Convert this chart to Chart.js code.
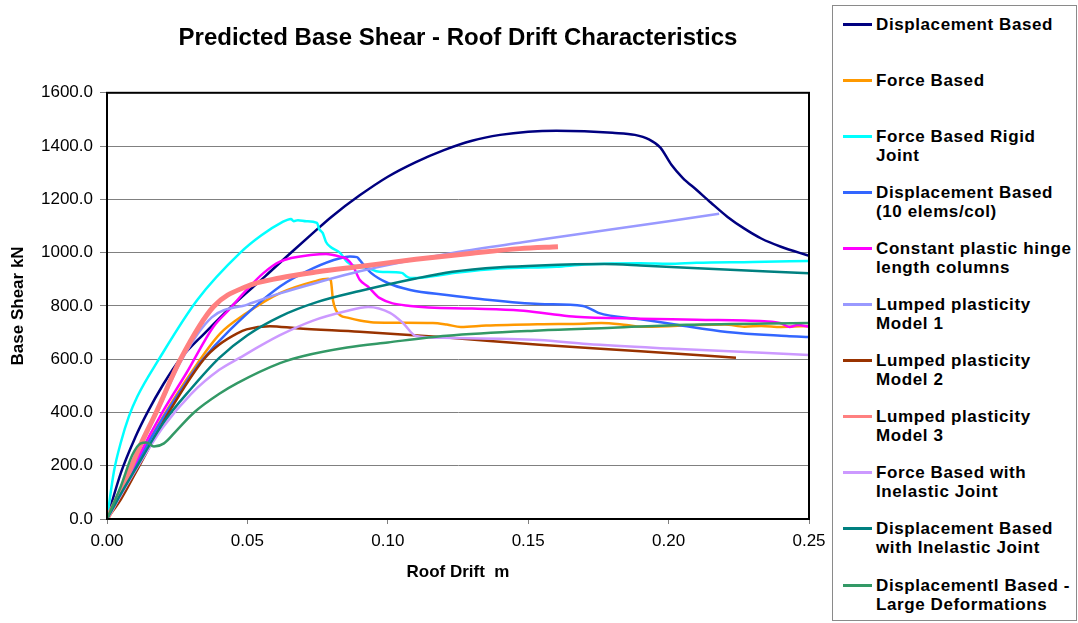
<!DOCTYPE html>
<html>
<head>
<meta charset="utf-8">
<title>Predicted Base Shear - Roof Drift Characteristics</title>
<script src="https://cdn.jsdelivr.net/npm/chart.js@4.4.0/dist/chart.umd.min.js"></script>
<style>
  html, body { margin: 0; padding: 0; background: #fff; }
  #wrap { position: relative; width: 1078px; height: 623px; overflow: hidden; }
  #legend {
    position: absolute; left: 832px; top: 5px; width: 243px; height: 614px;
    border: 1px solid #8a8a8a; background: #fff;
    font: bold 17px "Liberation Sans", Arial, sans-serif; color: #000; letter-spacing: 0.6px;
  }
  .item { position: absolute; left: 0; }
  .swatch { position: absolute; left: 10px; top: 8px; width: 29px; height: 3px; }
  .txt { position: absolute; left: 43px; top: 0; line-height: 19px; white-space: nowrap; }
</style>
</head>
<body>
<div id="wrap">
  <canvas id="driftChart" width="1078" height="623"></canvas>
  <div id="legend"></div>
</div>
<script>
// series: [roof drift m, base shear kN]
const dispBased = [
  [0, 0], [0.005, 175], [0.01, 305], [0.0144, 400], [0.02, 505], [0.026, 600], [0.035, 700],
  [0.045, 805], [0.0562, 910], [0.065, 995], [0.0735, 1075], [0.08, 1135], [0.09, 1215],
  [0.10, 1285], [0.11, 1340], [0.12, 1385], [0.13, 1420], [0.14, 1442], [0.15, 1454],
  [0.16, 1458], [0.17, 1456], [0.18, 1450], [0.188, 1442], [0.193, 1425], [0.197, 1395],
  [0.201, 1330], [0.205, 1281], [0.21, 1235], [0.215, 1188], [0.221, 1134], [0.227, 1090],
  [0.233, 1053], [0.24, 1022], [0.25, 988]
];
const forceBased = [
  [0, 0], [0.005, 100], [0.01, 200], [0.02, 385], [0.03, 550], [0.0402, 695], [0.0497, 773],
  [0.0616, 848], [0.0735, 891], [0.0788, 902], [0.0797, 895], [0.0805, 820], [0.0815, 785],
  [0.083, 765], [0.086, 755], [0.09, 745], [0.095, 738], [0.105, 737], [0.116, 736],
  [0.121, 730], [0.126, 721], [0.135, 726], [0.154, 731], [0.17, 733], [0.176, 736],
  [0.185, 728], [0.19, 722], [0.2, 724], [0.21, 728], [0.22, 730], [0.227, 722],
  [0.233, 725], [0.24, 721], [0.25, 725]
];
const forceRigid = [
  [0, 0], [0.0025, 180], [0.005, 290], [0.0078, 385], [0.0108, 460], [0.0185, 600],
  [0.0322, 823], [0.0474, 999], [0.055, 1065], [0.0627, 1116], [0.064, 1122], [0.0655, 1126],
  [0.0665, 1118], [0.068, 1122], [0.071, 1118], [0.0748, 1112], [0.0755, 1090], [0.0768, 1074],
  [0.078, 1040], [0.0795, 1022], [0.083, 999], [0.0855, 965], [0.0876, 952], [0.0926, 943],
  [0.097, 928], [0.105, 924], [0.1065, 912], [0.108, 905], [0.112, 906], [0.125, 925],
  [0.14, 940], [0.16, 947], [0.17, 955], [0.19, 960], [0.2, 958], [0.21, 962], [0.23, 965],
  [0.25, 969]
];
const dispBased10 = [
  [0, 0], [0.005, 100], [0.01, 200], [0.02, 380], [0.0296, 535], [0.0334, 590], [0.0438, 710],
  [0.0616, 873], [0.0735, 942], [0.083, 979], [0.0865, 985], [0.089, 983], [0.0898, 975],
  [0.0908, 962], [0.094, 924], [0.1, 886], [0.108, 860], [0.121, 841], [0.133, 826],
  [0.154, 807], [0.1695, 800], [0.172, 790], [0.175, 774], [0.19, 750], [0.203, 729],
  [0.2208, 702], [0.242, 687], [0.25, 683]
];
const constHinge = [
  [0, 0], [0.005, 100], [0.01, 210], [0.0197, 400], [0.0284, 550], [0.0379, 722],
  [0.0438, 790], [0.0497, 860], [0.0557, 923], [0.0616, 966], [0.0735, 992], [0.078, 995],
  [0.083, 985], [0.0855, 975], [0.0877, 948], [0.09, 898], [0.093, 872], [0.097, 830],
  [0.108, 800], [0.13, 790], [0.147, 783], [0.158, 770], [0.167, 759], [0.19, 752],
  [0.21, 748], [0.234, 742], [0.24, 735], [0.243, 721], [0.246, 728], [0.25, 722]
];
const lumped1 = [
  [0, 0], [0.006, 125], [0.012, 272], [0.0175, 392], [0.0262, 590], [0.0373, 757],
  [0.05, 805], [0.0616, 847], [0.075, 888], [0.09, 930], [0.123, 999], [0.147, 1037],
  [0.154, 1048], [0.18, 1088], [0.2, 1118], [0.218, 1146]
];
const lumped2 = [
  [0, 0], [0.005, 75], [0.01, 170], [0.022, 400], [0.0345, 600], [0.04, 655], [0.0464, 697],
  [0.0497, 712], [0.058, 724], [0.0675, 716], [0.09, 703], [0.12, 682], [0.154, 654],
  [0.19, 630], [0.224, 605]
];
const lumped3 = [
  [0, 0], [0.006, 130], [0.012, 280], [0.0175, 400], [0.0262, 600], [0.0379, 797],
  [0.0497, 873], [0.0616, 905], [0.075, 928], [0.09, 948], [0.11, 975], [0.13, 998],
  [0.147, 1015], [0.1606, 1022]
];
const forceInelastic = [
  [0, 0], [0.005, 90], [0.01, 180], [0.02, 345], [0.03, 470], [0.04, 560], [0.0464, 600],
  [0.0616, 690], [0.0734, 745], [0.085, 780], [0.093, 796], [0.1008, 774], [0.1054, 736],
  [0.11, 687], [0.12, 680], [0.154, 672], [0.171, 657], [0.2, 640], [0.25, 616]
];
const dispInelastic = [
  [0, 0], [0.005, 95], [0.01, 185], [0.02, 360], [0.03, 490], [0.04, 605], [0.05, 690],
  [0.0616, 760], [0.075, 815], [0.09, 856], [0.11, 903], [0.123, 928], [0.14, 945],
  [0.154, 952], [0.177, 957], [0.19, 952], [0.2065, 943], [0.25, 923]
];
const dispLarge = [
  [0, 0], [0.005, 125], [0.009, 240], [0.012, 284], [0.014, 287], [0.0167, 272],
  [0.0203, 284], [0.025, 335], [0.031, 400], [0.04, 470], [0.0464, 510], [0.0616, 585],
  [0.07, 612], [0.0855, 644], [0.1, 663], [0.121, 688], [0.154, 708], [0.18, 718],
  [0.2065, 729], [0.25, 736]
];

const seriesData = [
  dispBased, forceBased, forceRigid, dispBased10, constHinge, lumped1,
  lumped2, lumped3, forceInelastic, dispInelastic, dispLarge
];
const seriesLabels = [
  ['Displacement Based'],
  ['Force Based'],
  ['Force Based Rigid', 'Joint'],
  ['Displacement Based', '(10 elems/col)'],
  ['Constant plastic hinge', 'length columns'],
  ['Lumped plasticity', 'Model 1'],
  ['Lumped plasticity', 'Model 2'],
  ['Lumped plasticity', 'Model 3'],
  ['Force Based with', 'Inelastic Joint'],
  ['Displacement Based', 'with Inelastic Joint'],
  ['Displacementl Based -', 'Large Deformations']
];
const seriesColors = [
  '#000080', '#FF9900', '#00FFFF', '#3366FF', '#FF00FF', '#9999FF',
  '#993300', '#FF8080', '#CC99FF', '#008080', '#339966'
];
const seriesWidths = [2.5, 2.5, 2.5, 2.5, 2.5, 2.5, 2.5, 5, 2.5, 2.5, 2.5];

const driftTicks = [0, 0.05, 0.10, 0.15, 0.20, 0.25];
const shearMax = 1600;
const shearStep = 200;

const plotFrame = {
  id: 'plotFrame',
  afterDraw(chart) {
    const { ctx, chartArea } = chart;
    ctx.save();
    ctx.strokeStyle = '#000';
    ctx.lineWidth = 2;
    ctx.strokeRect(chartArea.left, chartArea.top, chartArea.right - chartArea.left, chartArea.bottom - chartArea.top);
    ctx.restore();
  }
};

const n = seriesData.length;
const datasets = seriesData.map((pts, i) => ({
  label: seriesLabels[i].join(' '),
  data: pts.map(p => ({ x: p[0], y: p[1] })),
  borderColor: seriesColors[i],
  backgroundColor: seriesColors[i],
  borderWidth: seriesWidths[i],
  pointRadius: 0,
  fill: false,
  cubicInterpolationMode: 'monotone',
  order: n - i
}));

const fontFamily = '"Liberation Sans", Arial, sans-serif';

const chart = new Chart(document.getElementById('driftChart'), {
  type: 'line',
  data: { datasets },
  options: {
    responsive: false,
    animation: false,
    layout: { padding: { left: 0, right: 269, top: 0, bottom: 0 } },
    scales: {
      x: {
        type: 'linear',
        min: driftTicks[0],
        max: driftTicks[driftTicks.length - 1],
        afterBuildTicks: scale => { scale.ticks = driftTicks.map(v => ({ value: v })); },
        afterFit: scale => { scale.height = 104; },
        ticks: {
          callback: v => Number(v).toFixed(2),
          font: { family: fontFamily, size: 17 },
          color: '#000',
          padding: 7,
          maxRotation: 0
        },
        grid: { drawOnChartArea: false, drawTicks: true, tickLength: 5, color: '#808080' },
        border: { color: '#000', width: 2 },
        title: {
          display: true,
          text: 'Roof Drift  m',
          font: { family: fontFamily, size: 17, weight: 'bold' },
          color: '#000',
          padding: { top: 0, bottom: 40 }
        }
      },
      y: {
        min: 0,
        max: shearMax,
        afterFit: scale => { scale.width = 107; },
        ticks: {
          stepSize: shearStep,
          callback: v => Number(v).toFixed(1),
          font: { family: fontFamily, size: 17 },
          color: '#000',
          padding: 7
        },
        grid: { color: '#808080', lineWidth: 1, tickLength: 7 },
        border: { color: '#000', width: 2 },
        title: {
          display: true,
          text: 'Base Shear kN',
          font: { family: fontFamily, size: 17, weight: 'bold' },
          color: '#000',
          padding: { top: 8, bottom: 0 }
        }
      }
    },
    plugins: {
      legend: { display: false },
      tooltip: { enabled: false },
      title: {
        display: true,
        fullSize: false,
        text: 'Predicted Base Shear - Roof Drift Characteristics',
        font: { family: fontFamily, size: 24, weight: 'bold' },
        color: '#000',
        padding: { top: 24, bottom: 40 }
      }
    }
  },
  plugins: [plotFrame]
});

// legend built from the chart's datasets
const legendEl = document.getElementById('legend');
chart.data.datasets.forEach((ds, i) => {
  const item = document.createElement('div');
  item.className = 'item';
  item.style.top = (8.5 + i * 56.1) + 'px';
  const sw = document.createElement('div');
  sw.className = 'swatch';
  sw.style.background = ds.borderColor;
  const txt = document.createElement('div');
  txt.className = 'txt';
  txt.innerHTML = seriesLabels[i].map(s => s.replace(/&/g, '&amp;').replace(/</g, '&lt;')).join('<br>');
  item.appendChild(sw);
  item.appendChild(txt);
  legendEl.appendChild(item);
});
</script>
</body>
</html>
